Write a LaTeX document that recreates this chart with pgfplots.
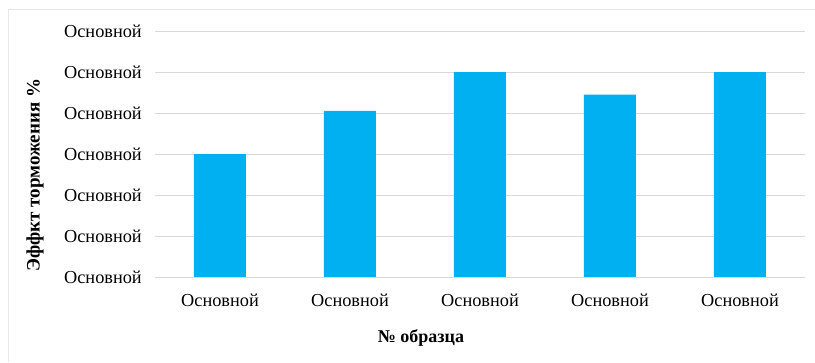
\documentclass[border=0pt]{standalone}
\usepackage{pgfplots}
\pgfplotsset{compat=1.18}
\usepackage{fontspec}
\setmainfont{Liberation Serif}
\definecolor{barblue}{HTML}{00B0F0}
\definecolor{gridgray}{HTML}{D9D9D9}
\begin{document}
\begin{tikzpicture}[x=1pt,y=1pt]
\useasboundingbox (0,0) rectangle (815,362);
\draw[gridgray!60, line width=1pt] (8,0) -- (8,352) -- (815,352);
\begin{axis}[
  at={(155pt,85pt)}, anchor=south west,
  scale only axis, width=650pt, height=246pt,
  xmin=-0.5, xmax=4.5, ymin=0, ymax=6,
  ytick={0,1,2,3,4,5,6},
  yticklabels={Основной,Основной,Основной,Основной,Основной,Основной,Основной},
  xtick={0,1,2,3,4},
  xticklabels={Основной,Основной,Основной,Основной,Основной},
  ymajorgrids, grid style={gridgray, line width=0.8pt},
  axis line style={draw=none},
  major tick length=0pt,
  tick label style={font=\fontsize{18.3}{21}\selectfont, inner sep=0pt},
  yticklabel style={anchor=east, xshift=-13pt},
  xticklabel style={anchor=center, yshift=-23pt},
  ybar, bar width=52pt, bar shift=0pt,
  clip=false,
]
\addplot[fill=barblue, draw=none] coordinates {(0,3) (1,4.05) (2,5) (3,4.45) (4,5)};
\end{axis}
\node[font=\bfseries\fontsize{18}{21}\selectfont] at (421,24) {№ образца};
\node[font=\bfseries\fontsize{19}{22}\selectfont, rotate=90] at (35,187) {Эффкт торможения \%};
\end{tikzpicture}
\end{document}
